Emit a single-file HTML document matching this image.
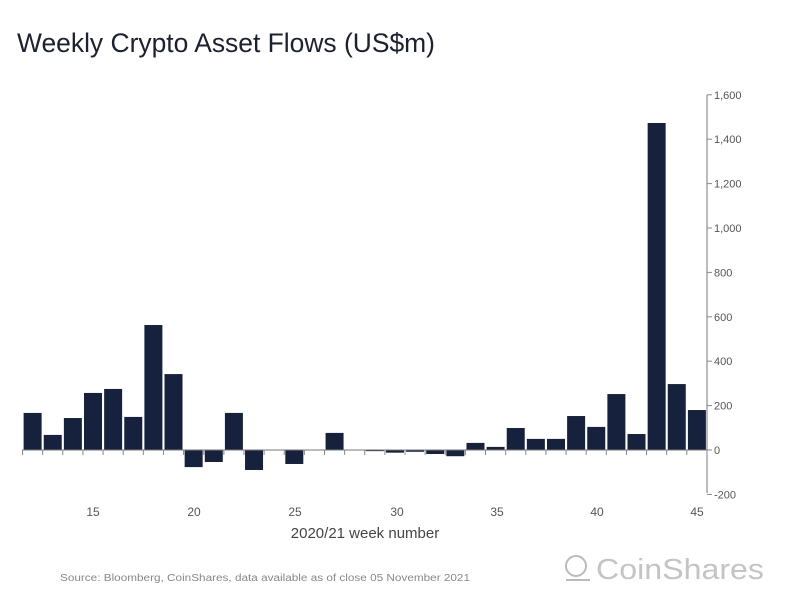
<!DOCTYPE html>
<html><head><meta charset="utf-8"><style>
body{margin:0;background:#fff;width:800px;height:600px;overflow:hidden}
svg{display:block;font-family:"Liberation Sans",sans-serif}
</style></head><body>
<svg id="c" width="800" height="600" xmlns="http://www.w3.org/2000/svg">
<text x="17" y="52" font-size="27" fill="#1b2033" textLength="418" lengthAdjust="spacingAndGlyphs">Weekly Crypto Asset Flows (US$m)</text>
<g id="bars" fill="#16213e"></g>
<line x1="22" y1="450" x2="707" y2="450" stroke="#777" stroke-width="1"/>
<line x1="707" y1="95" x2="707" y2="493" stroke="#777" stroke-width="1"/>
<g id="ticks" stroke="#888" stroke-width="1"></g>
<g font-size="11" fill="#555" id="ylab"></g>
<g font-size="12" fill="#555" text-anchor="middle">
<text x="93" y="516">15</text><text x="194" y="516">20</text><text x="295" y="516">25</text><text x="397" y="516">30</text><text x="497" y="516">35</text><text x="597" y="516">40</text><text x="697" y="516">45</text>
<text x="365" y="538" font-size="15" fill="#444">2020/21 week number</text>
</g>
<text x="60" y="581" font-size="10" fill="#888" textLength="410" lengthAdjust="spacingAndGlyphs">Source: Bloomberg, CoinShares, data available as of close 05 November 2021</text>
<g fill="none" stroke="#bbb" stroke-width="2"><circle cx="576" cy="566" r="10"/><line x1="566" y1="580" x2="590" y2="580"/></g>
<text x="596" y="579" font-size="29" fill="#c4c4c4" textLength="168" lengthAdjust="spacingAndGlyphs">CoinShares</text>
</svg>
<script>
var v=[167,68,144,257,275,149,563,342,-77,-54,167,-90,0,-63,0,77,0,-5,-12,-8,-18,-28,32,14,99,50,50,153,104,252,72,1473,297,180];
var s=44.4/200,g=document.getElementById('bars'),h='';
v.forEach(function(d,i){var w=12+i,cx=93+(w-15)*20.13;if(!d)return;var y=d>0?450-d*s:450,hh=Math.abs(d)*s;h+='<rect x="'+(cx-9)+'" y="'+y+'" width="18" height="'+hh+'"/>';});
g.innerHTML=h;
var t='',l='';
for(var w=12;w<=46;w++){var x=93+(w-15.5)*20.13;t+='<line x1="'+x+'" y1="450" x2="'+x+'" y2="455"/>';}
[1600,1400,1200,1000,800,600,400,200,0,-200].forEach(function(d){var y=450-d*s;t+='<line x1="707" y1="'+y+'" x2="712" y2="'+y+'"/>';l+='<text x="714" y="'+(y+4)+'">'+d.toLocaleString('en-US')+'</text>';});
document.getElementById('ticks').innerHTML=t;document.getElementById('ylab').innerHTML=l;
</script>
</body></html>
